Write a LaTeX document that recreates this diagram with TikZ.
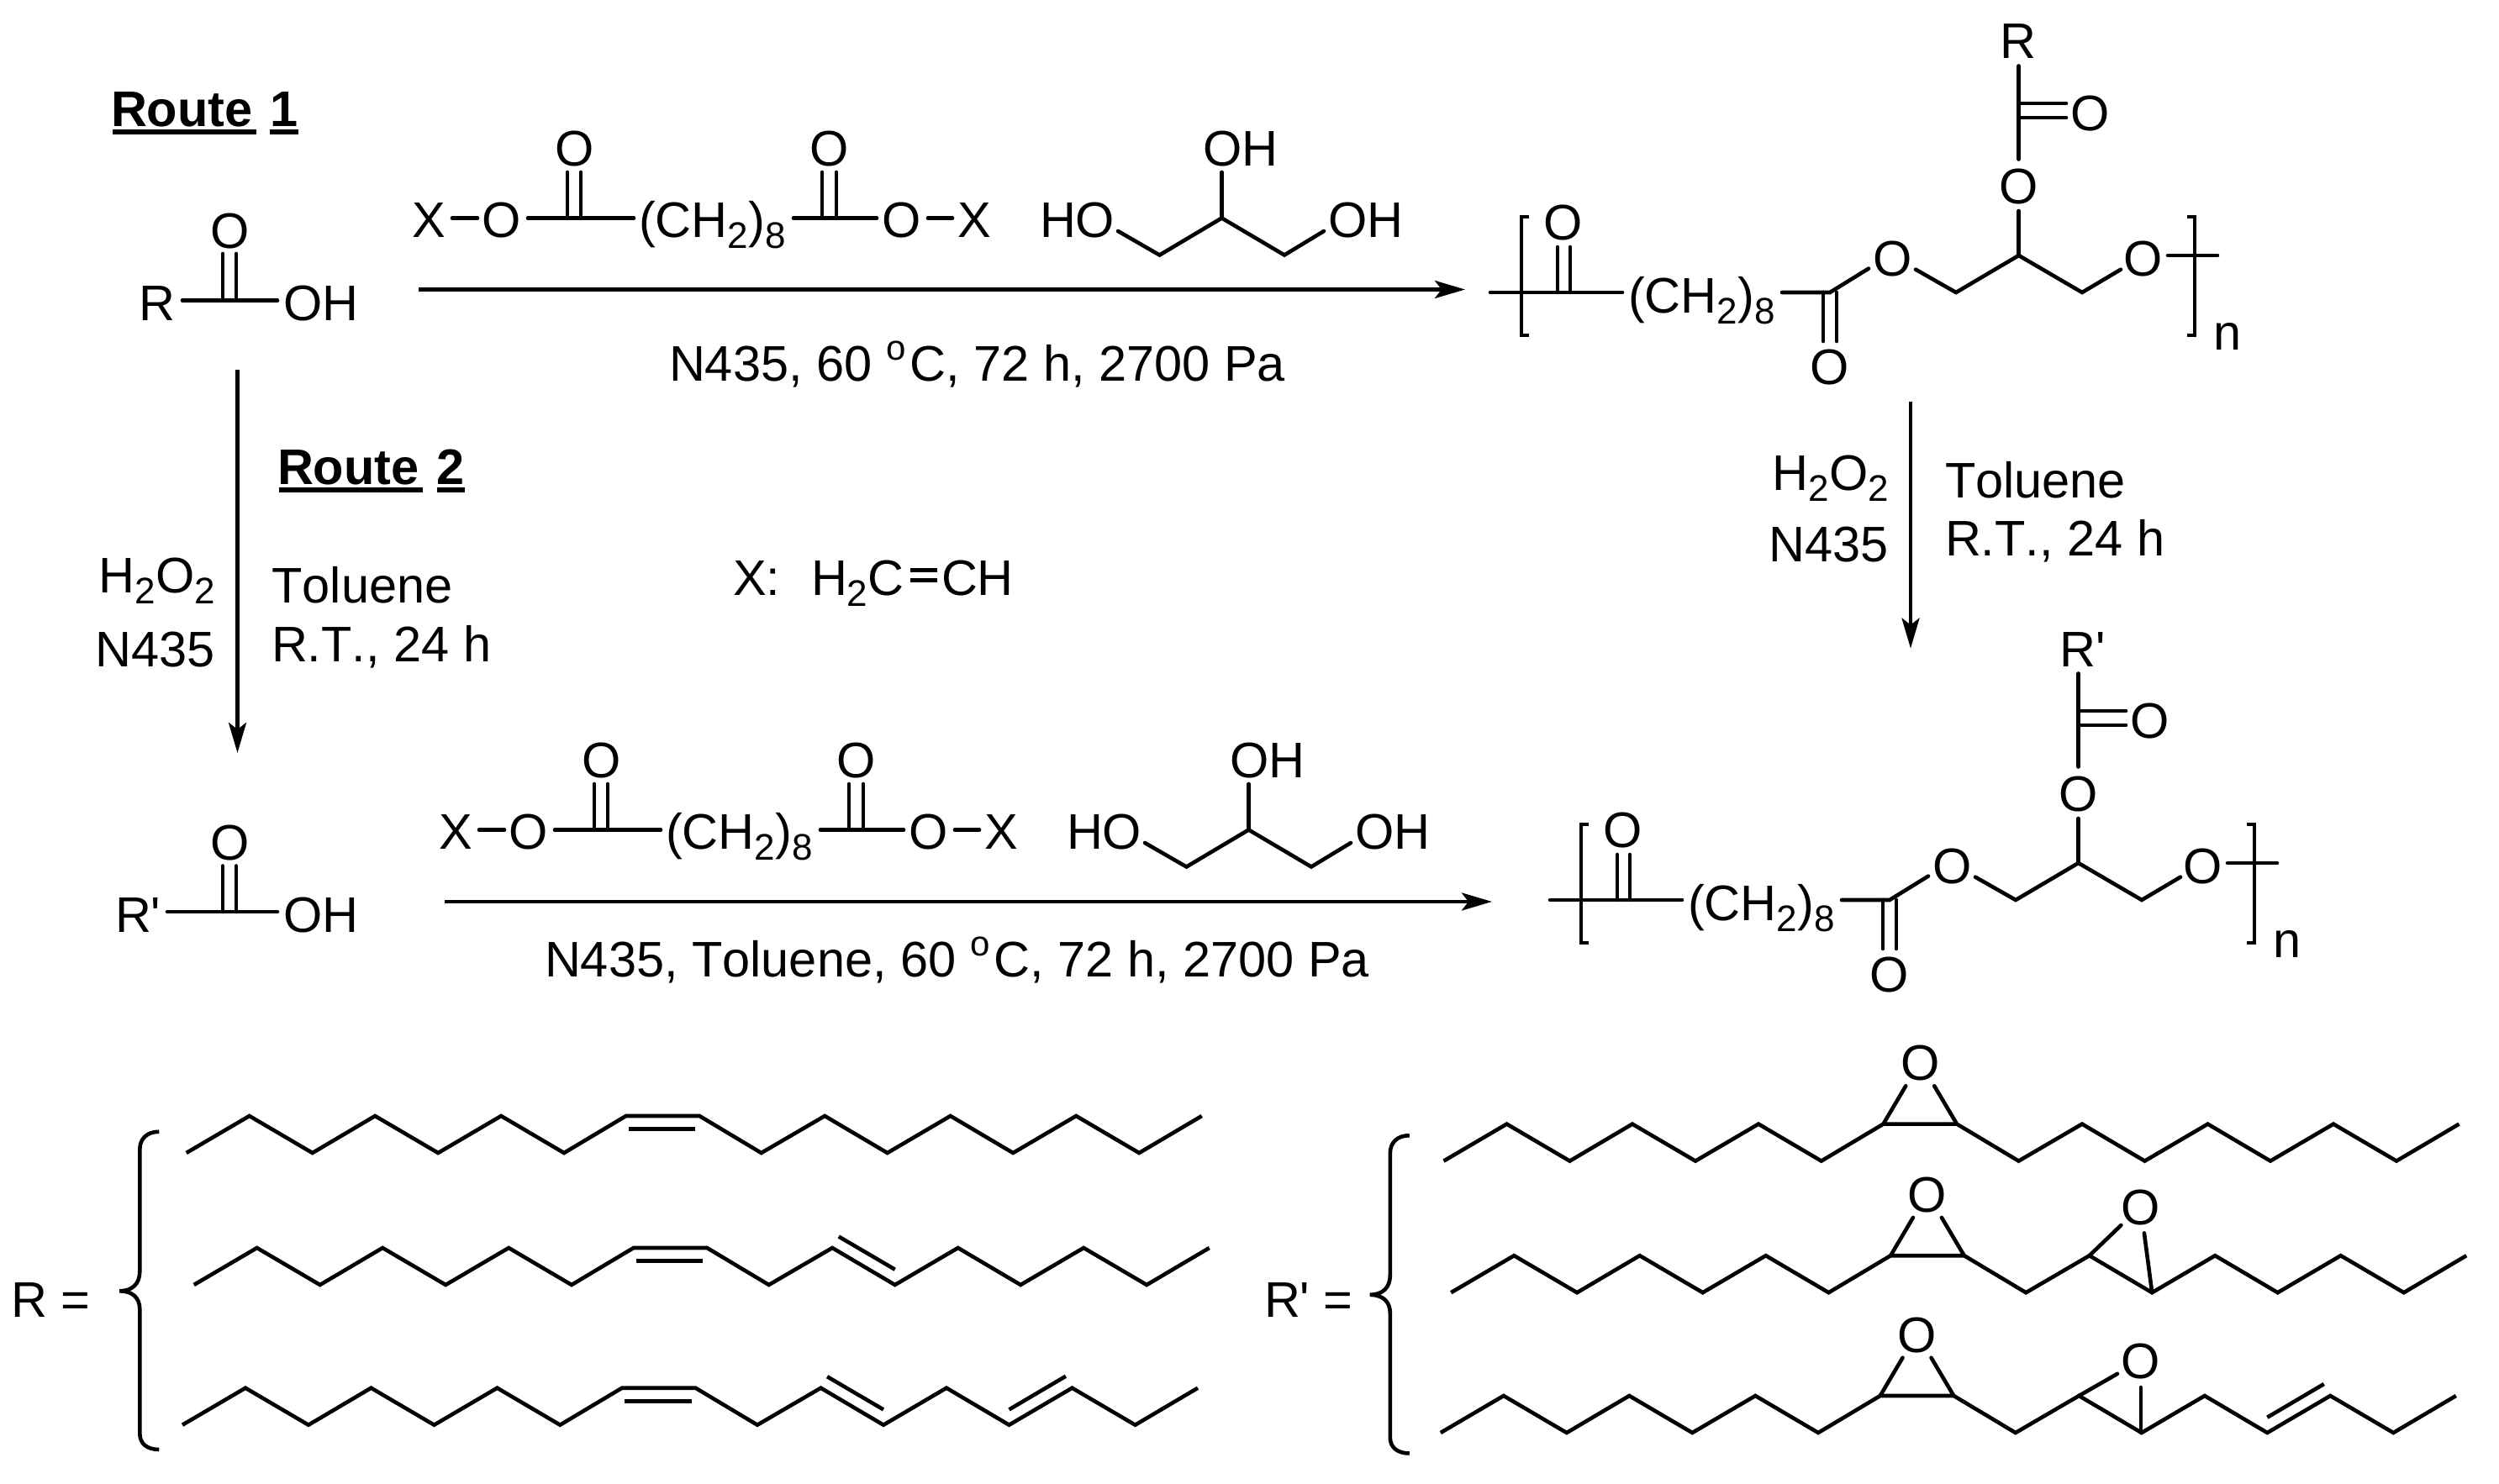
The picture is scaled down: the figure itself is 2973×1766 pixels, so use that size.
\documentclass[tikz,border=0pt]{standalone}
\usepackage{fontspec}
\setmainfont[Kerning=Off,Ligatures=TeXOff]{Liberation Sans}
\usetikzlibrary{arrows.meta}
\newcommand\chemfont{\fontsize{59.5}{59.5}\selectfont}
\newcommand\subd[1]{\raisebox{-13pt}{\fontsize{44}{44}\selectfont #1}}
\newcommand\supd[1]{\raisebox{25pt}{\fontsize{42}{42}\selectfont #1}\kern5pt}
\tikzset{
  txt/.style={inner sep=0pt,outer sep=0pt,font=\chemfont,anchor=base},
  txtw/.style={txt,anchor=base west},
  txte/.style={txt,anchor=base east},
  rtitle/.style={txtw,font=\chemfont\bfseries},
  bond/.style={line width=4.6pt,line cap=round,line join=miter},
  chainline/.style={line width=4.6pt,line cap=butt,line join=miter,miter limit=10},
  bracket/.style={line width=4.6pt,line cap=butt,line join=miter},
  rarrow/.style={line width=4.6pt,-{Stealth[length=36pt,width=21pt,inset=8pt]}},
  uline/.style={line width=6pt}
}
% zig-zag chain with a central horizontal bond
\newcommand\zigzag{\draw[chainline] (0,0)--(75,-44)--(150,0)--(224.5,-44)--(299.5,0)--(374.5,-44)--(449.3,0)--(523,-44)--(610.5,-44)--(684,0)--(759.5,-44)--(834,0)--(909,-44)--(983.5,0)--(1058.5,-44)--(1133.5,0)--(1208,-44);}
\newcommand\cisline{\draw[chainline] (526,-28.3)--(605.5,-28.3);}
\newcommand\transA{\draw[chainline] (767.1,-57.5)--(834,-18.3);}
\newcommand\transB{\draw[chainline] (983.5,-18.3)--(1050.9,-58);}
\newcommand\epox[1]{\node[txt] (#1) at (566.7,-96) {O};
  \draw[bond] (523,-44)--(549.7,-89.3); \draw[bond] (610.5,-44)--(583.7,-89.3);}
% curly brace
\newcommand\cbrace{\draw[bond,line cap=butt] (189.3,1346.7) .. controls (175,1346.7) and (166.3,1355) .. (166.3,1368) -- (166.3,1513) .. controls (166.3,1528) and (157,1536.3) .. (142.3,1536.3) .. controls (157,1536.3) and (166.3,1544) .. (166.3,1558) -- (166.3,1706) .. controls (166.3,1718) and (175,1725) .. (189.3,1725);}
% diester + glycerol
\newcommand\reagents[1]{
  \node[txt] (#1xa) at (510,282) {X};
  \node[txt] (#1oa) at (597,282) {O};
  \node[txt] (#1ob) at (683.5,197) {O};
  \node[txtw] (#1ch) at (760,282) {(CH\subd{2})\subd{8}};
  \node[txt] (#1oc) at (986.5,197) {O};
  \node[txt] (#1od) at (1073,282) {O};
  \node[txt] (#1xb) at (1159,282) {X};
  \node[txtw] (#1ho) at (1237,282) {HO};
  \node[txtw] (#1oh) at (1431,197) {OH};
  \node[txtw] (#1oi) at (1580,282) {OH};
  \draw[bond] (538,259.5)--(568,259.5);
  \draw[bond] (628,259.5)--(754,259.5);
  \draw[bond] (675,205)--(675,259.5) (691,205)--(691,259.5);
  \draw[bond] (944,259.5)--(1043,259.5);
  \draw[bond] (978,205)--(978,259.5) (995,205)--(995,259.5);
  \draw[bond] (1104,259.5)--(1133,259.5);
  \draw[bond] (1330,275)--(1379.5,303.5)--(1453.5,259.5)--(1528,303.5)--(1575,275);
  \draw[bond] (1453.5,205)--(1453.5,259.5);
}
% polymer
\newcommand\polymer[2]{
  \node[txt] (#1oa) at (1860,285) {O};
  \node[txtw] (#1ch) at (1937,372) {(CH\subd{2})\subd{8}};
  \node[txt] (#1ob) at (2252,328) {O};
  \node[txt] (#1oc) at (2176.5,457) {O};
  \node[txt] (#1od) at (2550,328) {O};
  \node[txt] (#1oe) at (2401.6,242) {O};
  \node[txt] (#1of) at (2487,155) {O};
  \node[txtw] (#1r) at (2379.5,70) {#2};
  \node[txtw] (#1n) at (2633,416) {n};
  \draw[bond] (1773,348)--(1930,348);
  \draw[bracket] (1819,258)--(1810,258)--(1810,399)--(1819,399);
  \draw[bond] (1853,294)--(1853,348) (1868,294)--(1868,348);
  \draw[bond] (2120,348)--(2177,348)--(2223,319.6);
  \draw[bond] (2169,348)--(2169,406) (2185,348)--(2185,406);
  \draw[bond] (2279,320.7)--(2327,348)--(2401.6,304)--(2477,348)--(2523,320.7);
  \draw[bond] (2401.6,304)--(2401.6,251);
  \draw[bond] (2401.6,189.5)--(2401.6,78.5);
  \draw[bond] (2403,123)--(2458,123) (2403,140)--(2458,140);
  \draw[bond] (2579,304)--(2638,304);
  \draw[bracket] (2602,258)--(2611,258)--(2611,399)--(2602,399);
}
\begin{document}
\begin{tikzpicture}[x=1pt,y=-1pt]
\useasboundingbox (0,0) rectangle (2973,1766);
\fill[white] (0,0) rectangle (2973,1766);

% titles
\node[rtitle] (route1) at (132,150) {Route};
\node[rtitle] (route1n) at (321,150) {1};
\draw[uline] (134,157)--(305,157) (321,157)--(355,157);
\node[rtitle] (route2) at (330,576) {Route};
\node[rtitle] (route2n) at (519,576) {2};
\draw[uline] (332,583)--(503,583) (520,583)--(553,583);

% acid R
\node[txtw] (acidr) at (165,381) {R};
\node[txt] (acido) at (273.5,295) {O};
\node[txtw] (acidoh) at (337,381) {OH};
\draw[bond] (217,357.5)--(330,357.5);
\draw[bond] (265,302)--(265,357.5) (281,302)--(281,357.5);

% acid R'
\node[txtw] (acidpr) at (137,1109) {R'};
\node[txt] (acidpo) at (273.5,1023) {O};
\node[txtw] (acidpoh) at (337,1109) {OH};
\draw[bond] (199,1085)--(330,1085);
\draw[bond] (265,1030.5)--(265,1085) (281,1030.5)--(281,1085);

% reagents
\reagents{ra}
\begin{scope}[shift={(32,728)}]
\reagents{rb}
\end{scope}

% polymers
\polymer{pa}{R}
\begin{scope}[shift={(71,723)}]
\polymer{pb}{R'}
\end{scope}

% arrows
\coordinate (a1s) at (498,344.5); \coordinate (a1e) at (1743,344.5);
\coordinate (a2s) at (529,1073); \coordinate (a2e) at (1775,1073);
\coordinate (a3s) at (282.5,440); \coordinate (a3e) at (282.5,896);
\coordinate (a4s) at (2273,478); \coordinate (a4e) at (2273,771.6);
\draw[rarrow] (a1s)--(a1e);
\draw[rarrow] (a2s)--(a2e);
\draw[rarrow] (a3s)--(a3e);
\draw[rarrow] (a4s)--(a4e);

% conditions
\node[txtw] (c1) at (796,453) {N435, 60 \supd{o}C, 72 h, 2700 Pa};
\node[txtw] (c2) at (648,1162.6) {N435, Toluene, 60 \supd{o}C, 72 h, 2700 Pa};
\node[txte] (l1) at (256,705) {H\subd{2}O\subd{2}};
\node[txte] (l2) at (256,793) {N435};
\node[txtw] (l3) at (323.5,717.5) {Toluene};
\node[txtw] (l4) at (323,787) {R.T., 24 h};
\node[txte] (r1) at (2247,583.6) {H\subd{2}O\subd{2}};
\node[txte] (r2) at (2247,668) {N435};
\node[txtw] (r3) at (2314,592) {Toluene};
\node[txtw] (r4) at (2314,661.5) {R.T., 24 h};

% X definition
\node[txtw] (xa) at (872,708) {X:};
\node[txtw] (xb) at (965,708) {H\subd{2}C};
\node[txtw] (xc) at (1120,708) {CH};
\draw[bond,line cap=butt] (1083,678.5)--(1115,678.5) (1083,690.7)--(1115,690.7);

% R chains
\node[txtw] (rlab) at (13,1567) {R =};
\cbrace
\begin{scope}[shift={(221.7,1372)}]\zigzag\cisline\end{scope}
\begin{scope}[shift={(230.7,1529)}]\zigzag\cisline\transA\end{scope}
\begin{scope}[shift={(217,1695.7)}]\zigzag\cisline\transA\transB\end{scope}

% R' chains
\node[txtw] (rplab) at (1504,1567.7) {R' =};
\begin{scope}[shift={(1487.5,4.5)}]\cbrace\end{scope}
\begin{scope}[shift={(1717.5,1381.6)}]\zigzag\epox{ea}\end{scope}
\begin{scope}[shift={(1726.2,1538.2)}]\zigzag\epox{eb}
  \node[txt] (ec) at (820.3,-80.8) {O};
  \draw[bond] (759.5,-44)--(797.2,-80.2);
  \draw[bond] (834,0)--(824.7,-70.8);
\end{scope}
\begin{scope}[shift={(1713.8,1705)}]\zigzag\epox{ed}\transB
  \node[txt] (ee) at (832.7,-64.1) {O};
  \draw[bond] (759.5,-44)--(805.2,-70.2);
  \draw[bond] (833,0)--(833,-54);
\end{scope}
\end{tikzpicture}
\end{document}
